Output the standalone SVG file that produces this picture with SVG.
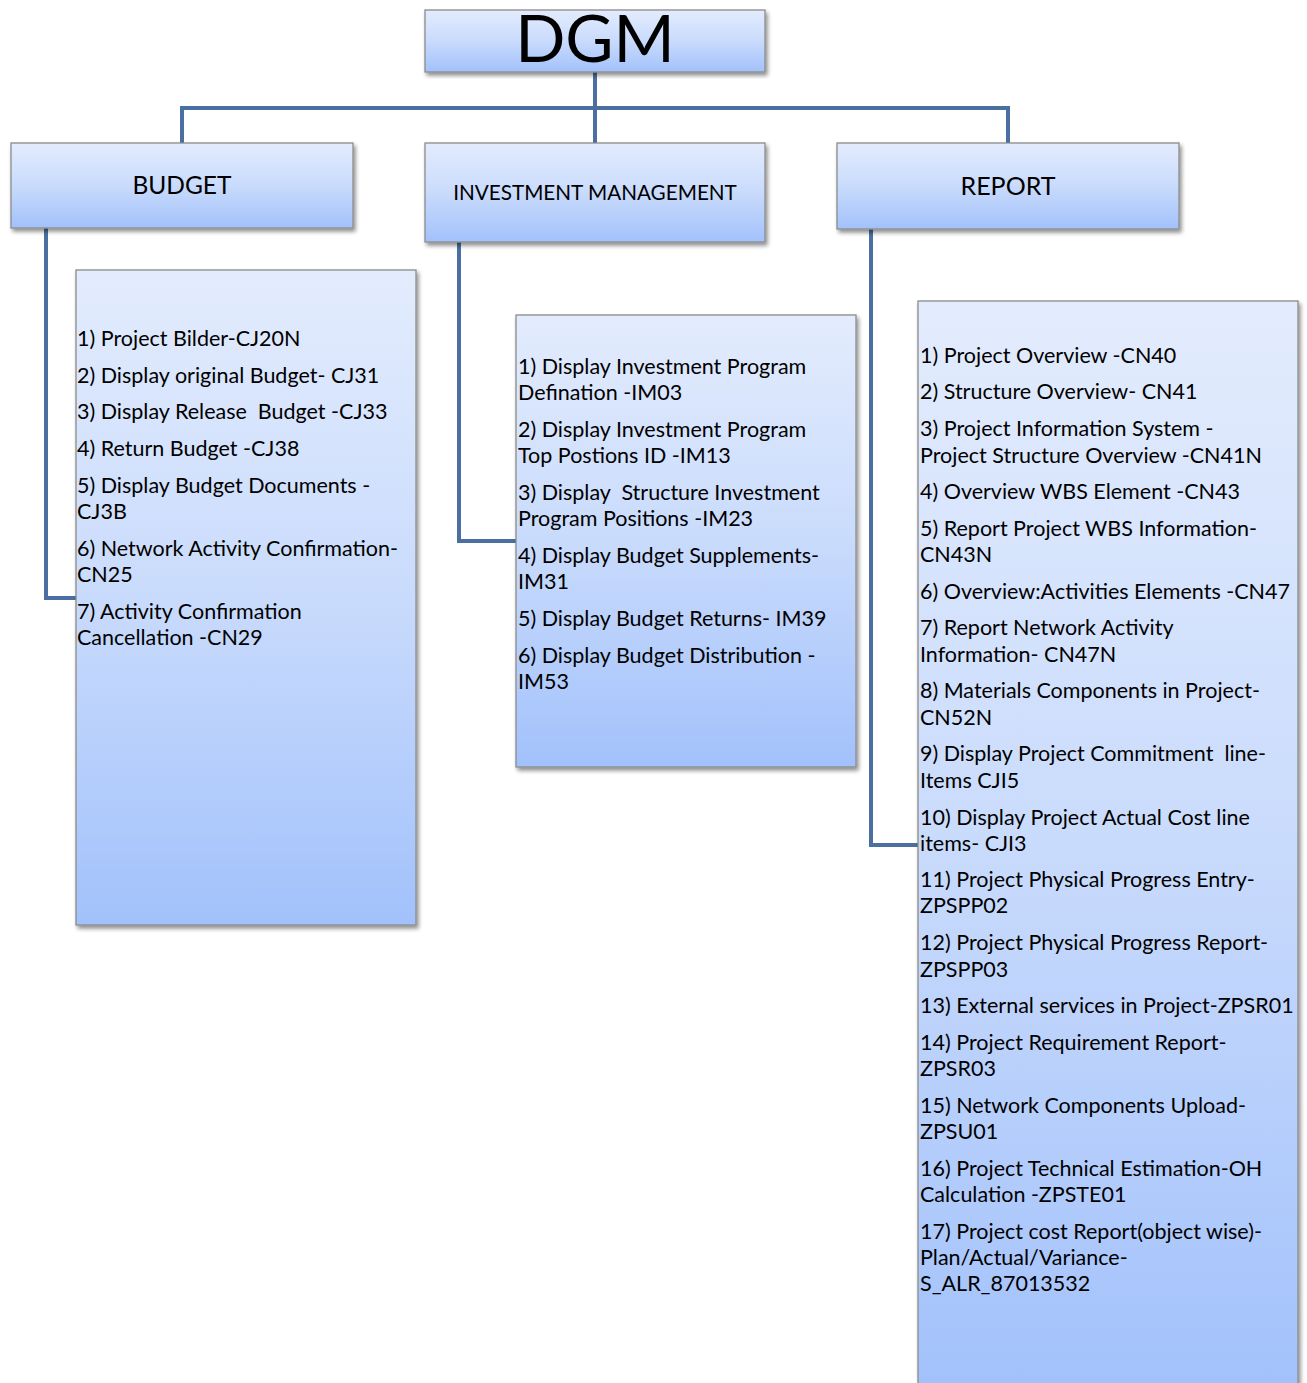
<svg xmlns="http://www.w3.org/2000/svg" width="1307" height="1383" viewBox="0 0 1307 1383">
<defs>
<linearGradient id="g" x1="0" y1="0" x2="0" y2="1">
<stop offset="0" stop-color="#e3ecfd"/>
<stop offset="0.5" stop-color="#c9dbfc"/>
<stop offset="1" stop-color="#a2c1fb"/>
</linearGradient>
<filter id="sh" x="-5%" y="-5%" width="115%" height="115%">
<feGaussianBlur in="SourceAlpha" stdDeviation="2"/>
<feOffset dx="2" dy="3"/>
<feComponentTransfer><feFuncA type="linear" slope="0.45"/></feComponentTransfer>
<feMerge><feMergeNode/><feMergeNode in="SourceGraphic"/></feMerge>
</filter>
</defs>
<style>
.box{fill:url(#g);stroke:#8c8c8c;stroke-width:1.3;filter:url(#sh)}
.t{font-family:Lato,"Open Sans",sans-serif;font-size:21.5px;fill:#000}
.h{font-family:Lato,"Open Sans",sans-serif;fill:#000;text-anchor:middle}
.c{fill:none;stroke:#4a6fa0;stroke-width:4}
</style>
<rect width="1307" height="1383" fill="#fff"/>
<g id="connectors">
<path class="c" d="M595 72V143M182 143V108H1008V143"/>
<path class="c" d="M46 228V598H76"/>
<path class="c" d="M459 242V541H516"/>
<path class="c" d="M871 229V845H918"/>
</g>
<g id="dgm">
<rect class="box" x="425" y="10" width="340" height="62"/>
<text class="h" x="595" y="62" font-size="66">DGM</text>
</g>
<g id="budget">
<rect class="box" x="11" y="143" width="342" height="85"/>
<text class="h" x="182" y="194" font-size="24.5">BUDGET</text>
</g>
<g id="investment">
<rect class="box" x="425" y="143" width="340" height="99"/>
<text class="h" x="595" y="200" font-size="20.7">INVESTMENT MANAGEMENT</text>
</g>
<g id="report">
<rect class="box" x="837" y="143" width="342" height="86"/>
<text class="h" x="1008" y="195" font-size="25">REPORT</text>
</g>
<g id="budget-list">
<rect class="box" x="76" y="270" width="340" height="655"/>
<text class="t" x="77" y="346">1) Project Bilder-CJ20N</text>
<text class="t" x="77" y="383">2) Display original Budget- CJ31</text>
<text class="t" x="77" y="419" xml:space="preserve">3) Display Release  Budget -CJ33</text>
<text class="t" x="77" y="456">4) Return Budget -CJ38</text>
<text class="t" x="77" y="493">5) Display Budget Documents -</text>
<text class="t" x="77" y="519">CJ3B</text>
<text class="t" x="77" y="556">6) Network Activity Confirmation-</text>
<text class="t" x="77" y="582">CN25</text>
<text class="t" x="77" y="619">7) Activity Confirmation</text>
<text class="t" x="77" y="645">Cancellation -CN29</text>
</g>
<g id="im-list">
<rect class="box" x="516" y="315" width="340" height="452"/>
<text class="t" x="518" y="374">1) Display Investment Program</text>
<text class="t" x="518" y="400">Defination -IM03</text>
<text class="t" x="518" y="437">2) Display Investment Program</text>
<text class="t" x="518" y="463">Top Postions ID -IM13</text>
<text class="t" x="518" y="500" xml:space="preserve">3) Display  Structure Investment</text>
<text class="t" x="518" y="526">Program Positions -IM23</text>
<text class="t" x="518" y="563">4) Display Budget Supplements-</text>
<text class="t" x="518" y="589">IM31</text>
<text class="t" x="518" y="626">5) Display Budget Returns- IM39</text>
<text class="t" x="518" y="663">6) Display Budget Distribution -</text>
<text class="t" x="518" y="689">IM53</text>
</g>
<g id="report-list">
<rect class="box" x="918" y="301" width="380" height="1090"/>
<text class="t" x="920" y="363">1) Project Overview -CN40</text>
<text class="t" x="920" y="399">2) Structure Overview- CN41</text>
<text class="t" x="920" y="436">3) Project Information System -</text>
<text class="t" x="920" y="463">Project Structure Overview -CN41N</text>
<text class="t" x="920" y="499">4) Overview WBS Element -CN43</text>
<text class="t" x="920" y="536">5) Report Project WBS Information-</text>
<text class="t" x="920" y="562">CN43N</text>
<text class="t" x="920" y="599">6) Overview:Activities Elements -CN47</text>
<text class="t" x="920" y="635">7) Report Network Activity</text>
<text class="t" x="920" y="662">Information- CN47N</text>
<text class="t" x="920" y="698">8) Materials Components in Project-</text>
<text class="t" x="920" y="725">CN52N</text>
<text class="t" x="920" y="761" xml:space="preserve">9) Display Project Commitment  line-</text>
<text class="t" x="920" y="788">Items CJI5</text>
<text class="t" x="920" y="825">10) Display Project Actual Cost line</text>
<text class="t" x="920" y="851">items- CJI3</text>
<text class="t" x="920" y="887">11) Project Physical Progress Entry-</text>
<text class="t" x="920" y="913">ZPSPP02</text>
<text class="t" x="920" y="950">12) Project Physical Progress Report-</text>
<text class="t" x="920" y="977">ZPSPP03</text>
<text class="t" x="920" y="1013">13) External services in Project-ZPSR01</text>
<text class="t" x="920" y="1050">14) Project Requirement Report-</text>
<text class="t" x="920" y="1076">ZPSR03</text>
<text class="t" x="920" y="1113">15) Network Components Upload-</text>
<text class="t" x="920" y="1139">ZPSU01</text>
<text class="t" x="920" y="1176">16) Project Technical Estimation-OH</text>
<text class="t" x="920" y="1202">Calculation -ZPSTE01</text>
<text class="t" x="920" y="1239">17) Project cost Report(object wise)-</text>
<text class="t" x="920" y="1265">Plan/Actual/Variance-</text>
<text class="t" x="920" y="1291">S_ALR_87013532</text>
</g>
</svg>
